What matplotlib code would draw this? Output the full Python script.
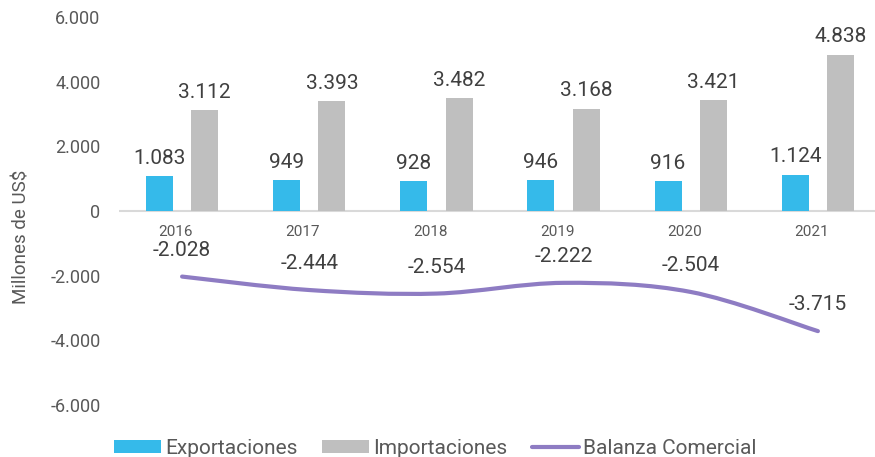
import numpy as np
import matplotlib
matplotlib.use("Agg")
import matplotlib.pyplot as plt
from matplotlib.path import Path
from matplotlib.patches import PathPatch
from matplotlib.lines import Line2D
from matplotlib.patches import Patch

plt.rcParams['font.family'] = ['Roboto', 'DejaVu Sans']

years = ['2016', '2017', '2018', '2019', '2020', '2021']
exportaciones = [1083, 949, 928, 946, 916, 1124]
importaciones = [3112, 3393, 3482, 3168, 3421, 4838]
balanza = [-2028, -2444, -2554, -2222, -2504, -3715]
yticks = [-6000, -4000, -2000, 0, 2000, 4000, 6000]

def fmt(v):
    s = f"{abs(v):,}".replace(",", ".")
    return ("-" if v < 0 else "") + s

c_exp = '#35BAEA'
c_imp = '#BFBFBF'
c_bal = '#8E7CC3'
c_txt = '#404040'
c_tick = '#595959'

fig = plt.figure(figsize=(8.75, 4.57), dpi=100)
ax = fig.add_axes([118.5 / 875, (457 - 405) / 457, 763 / 875, 388 / 457])

x = np.arange(len(years))
off = 0.178
w = 0.212
ax.bar(x - off, exportaciones, width=w, color=c_exp, zorder=2)
ax.bar(x + off, importaciones, width=w, color=c_imp, zorder=2)

for xi, v in zip(x, exportaciones):
    ax.annotate(fmt(v), (xi - off, v), xytext=(0, 6), textcoords='offset points',
                ha='center', va='bottom', fontsize=15, color=c_txt)
for xi, v in zip(x, importaciones):
    ax.annotate(fmt(v), (xi + off, v), xytext=(0, 6), textcoords='offset points',
                ha='center', va='bottom', fontsize=15, color=c_txt)

# smooth line through the data points (Catmull-Rom style Bezier, like Excel smoothing)
pts = np.column_stack([x, balanza]).astype(float)
verts = [tuple(pts[0])]
codes = [Path.MOVETO]
n = len(pts)
for i in range(n - 1):
    p0 = pts[i - 1] if i > 0 else pts[i]
    p1 = pts[i]
    p2 = pts[i + 1]
    p3 = pts[i + 2] if i + 2 < n else pts[i + 1]
    c1 = p1 + (p2 - p0) / 6.0
    c2 = p2 - (p3 - p1) / 6.0
    verts += [tuple(c1), tuple(c2), tuple(p2)]
    codes += [Path.CURVE4, Path.CURVE4, Path.CURVE4]
ax.add_patch(PathPatch(Path(verts, codes), facecolor='none', edgecolor=c_bal,
                       lw=3, capstyle='round', zorder=3))

for xi, v in zip(x, balanza):
    ax.annotate(fmt(v), (xi, v), xytext=(0, 12), textcoords='offset points',
                ha='center', va='bottom', fontsize=15, color=c_txt)

ax.set_xlim(-0.5, len(years) - 0.5)
ax.set_ylim(-6000, 6000)
ax.set_yticks(yticks)
ax.set_yticklabels([fmt(v) for v in yticks], fontsize=13, color=c_tick)
ax.tick_params(axis='y', length=0, pad=13)
ax.set_xticks([])
for xi, yr in zip(x, years):
    ax.text(xi - 0.05, -420, yr, ha='center', va='top', fontsize=11, color=c_tick)

for s in ax.spines.values():
    s.set_visible(False)
ax.axhline(0, color='#D9D9D9', lw=1.5, zorder=1)

fig.text(22 / 875, 1 - 237 / 457, 'Millones de US$', rotation=90, ha='center', va='center',
         fontsize=13.5, color=c_tick)

handles = [Patch(facecolor=c_exp, edgecolor='none'),
           Patch(facecolor=c_imp, edgecolor='none'),
           Line2D([0], [0], color=c_bal, lw=3, solid_capstyle='round')]
labels = ['Exportaciones', 'Importaciones', 'Balanza Comercial']
fig.legend(handles, labels, loc='center left', bbox_to_anchor=(95 / 875, 1 - 448 / 457),
           ncol=3, frameon=False, fontsize=15, handlelength=2.25, handleheight=0.6,
           handletextpad=0.2, columnspacing=1.2, labelcolor=c_tick)

fig.savefig('out.png', dpi=100)
